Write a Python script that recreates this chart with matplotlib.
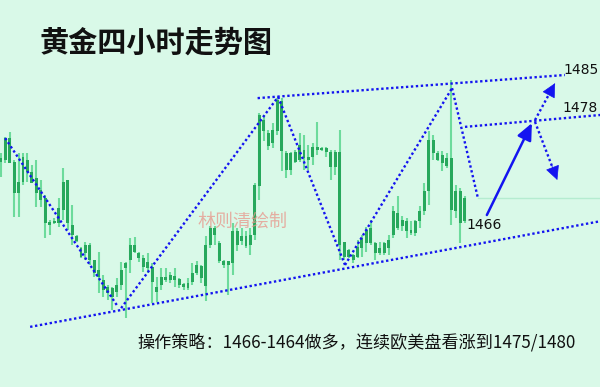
import matplotlib
matplotlib.use("Agg")
import matplotlib.pyplot as plt
import numpy as np

# ---- candle data (4h gold) ----
opens = [1471.1, 1471.4, 1474.9, 1471.1, 1467.9, 1467.9, 1471.4, 1469.5, 1468.5, 1466.6,
         1465.3, 1461.5, 1461.3, 1461.3, 1463.4, 1468.2, 1461.0, 1459.2, 1457.3, 1456.5,
         1457.8, 1455.4, 1453.8, 1452.2, 1451.1, 1450.9, 1450.3, 1451.4, 1454.1, 1455.4,
         1457.8, 1456.5, 1455.7, 1455.1, 1454.3, 1451.1, 1451.4, 1452.2, 1452.2, 1452.8,
         1452.4, 1451.6, 1450.9, 1451.9, 1453.3, 1454.4, 1451.2, 1457.8, 1460.5, 1458.1,
         1455.2, 1454.6, 1454.9, 1460.0, 1458.4, 1459.2, 1457.8, 1459.4, 1467.2, 1477.8,
         1475.7, 1474.1, 1476.0, 1480.8, 1472.5, 1469.8, 1472.7, 1471.4, 1473.0, 1471.9,
         1471.9, 1473.5, 1473.0, 1473.3, 1472.7, 1470.3, 1472.7, 1458.3, 1455.9, 1456.2,
         1455.9, 1457.3, 1458.1, 1460.5, 1458.1, 1456.5, 1456.5, 1457.3, 1459.4, 1462.9,
         1460.8, 1461.6, 1460.2, 1459.7, 1461.6, 1463.2, 1466.4, 1474.6, 1472.5, 1472.2,
         1471.7, 1471.7, 1463.2, 1466.4, 1461.6]
highs = [1472.5, 1475.1, 1475.9, 1471.4, 1472.5, 1472.5, 1472.5, 1470.6, 1471.4, 1468.2,
         1465.8, 1461.8, 1462.1, 1465.3, 1470.1, 1468.2, 1464.2, 1459.4, 1457.5, 1458.3,
         1458.1, 1455.4, 1456.7, 1453.0, 1451.4, 1451.1, 1452.5, 1455.1, 1455.1, 1458.9,
         1459.1, 1456.7, 1456.2, 1456.5, 1454.9, 1452.7, 1454.1, 1454.1, 1453.5, 1454.1,
         1452.5, 1451.7, 1452.5, 1454.9, 1455.2, 1454.6, 1459.2, 1460.8, 1460.8, 1458.4,
         1455.4, 1455.2, 1461.3, 1460.5, 1460.5, 1460.0, 1460.5, 1467.7, 1478.9, 1478.6,
         1476.2, 1477.3, 1481.3, 1481.3, 1472.8, 1472.7, 1473.0, 1475.7, 1475.4, 1473.8,
         1474.1, 1477.5, 1473.5, 1473.5, 1473.0, 1473.0, 1476.2, 1458.3, 1457.2, 1456.4,
         1458.6, 1459.4, 1460.7, 1461.8, 1458.3, 1458.3, 1458.3, 1459.4, 1464.0, 1465.6,
         1462.4, 1462.1, 1461.6, 1461.8, 1464.0, 1467.7, 1476.0, 1475.4, 1472.8, 1472.8,
         1472.5, 1484.2, 1467.4, 1466.9, 1465.6]
lows = [1468.7, 1470.9, 1470.9, 1462.3, 1462.3, 1467.4, 1467.9, 1467.7, 1463.9, 1463.9,
        1458.9, 1459.4, 1461.2, 1460.7, 1461.8, 1460.2, 1457.8, 1458.3, 1455.7, 1455.4,
        1454.6, 1452.7, 1450.1, 1449.5, 1449.0, 1447.4, 1449.5, 1450.6, 1446.1, 1453.3,
        1456.5, 1455.1, 1453.5, 1453.3, 1448.5, 1448.7, 1450.6, 1451.9, 1451.7, 1451.1,
        1450.9, 1450.6, 1450.6, 1451.4, 1453.0, 1451.7, 1448.8, 1457.3, 1457.8, 1454.9,
        1454.1, 1449.8, 1453.0, 1456.8, 1457.8, 1457.3, 1456.2, 1458.6, 1465.0, 1474.4,
        1473.0, 1473.3, 1475.4, 1469.6, 1468.5, 1469.0, 1470.9, 1471.1, 1469.8, 1469.8,
        1470.6, 1472.2, 1472.8, 1471.9, 1468.2, 1469.0, 1455.4, 1455.4, 1455.7, 1454.9,
        1455.7, 1455.9, 1456.7, 1457.8, 1455.4, 1456.2, 1456.2, 1456.2, 1458.9, 1460.2,
        1460.0, 1458.9, 1459.4, 1459.2, 1460.5, 1462.6, 1464.2, 1471.4, 1471.2, 1469.6,
        1470.1, 1461.0, 1462.1, 1458.1, 1461.3]
closes = [1471.7, 1474.9, 1470.9, 1466.1, 1466.1, 1471.9, 1469.5, 1467.7, 1466.1, 1465.0,
          1461.3, 1461.0, 1461.6, 1463.7, 1467.9, 1461.3, 1459.4, 1458.4, 1455.9, 1457.8,
          1455.4, 1453.3, 1452.7, 1450.6, 1450.1, 1449.5, 1451.4, 1453.8, 1454.9, 1457.8,
          1456.7, 1455.7, 1454.3, 1454.1, 1451.9, 1450.3, 1452.7, 1452.7, 1453.0, 1452.2,
          1451.4, 1451.1, 1451.7, 1453.3, 1454.6, 1452.5, 1457.8, 1460.5, 1459.4, 1455.2,
          1454.6, 1455.2, 1460.0, 1457.8, 1459.2, 1457.6, 1459.4, 1467.4, 1478.6, 1476.0,
          1473.6, 1476.2, 1481.0, 1472.8, 1469.8, 1472.5, 1471.1, 1473.8, 1471.7, 1471.4,
          1473.5, 1473.0, 1473.3, 1472.7, 1470.3, 1472.7, 1457.8, 1455.9, 1457.0, 1455.4,
          1457.5, 1458.9, 1460.2, 1458.1, 1456.5, 1457.3, 1458.1, 1458.6, 1463.2, 1460.5,
          1461.8, 1460.0, 1459.7, 1461.6, 1463.2, 1466.4, 1474.6, 1472.5, 1471.4, 1470.9,
          1470.4, 1463.4, 1466.4, 1461.3, 1465.3]

# ---- hand-drawn analysis lines: (candle index, price) ----
trend_down_1 = [(1.0, 1474.9), (26.3, 1447.9)]
trend_up_1 = [(27.0, 1447.7), (62.2, 1481.5)]
resistance_top = [(57.6, 1481.3), (126.5, 1485.0)]
trend_down_2 = [(62.2, 1481.5), (77.2, 1454.6)]
trend_up_2 = [(77.2, 1454.6), (101.2, 1482.9)]
trend_down_3 = [(101.2, 1482.9), (107.0, 1465.3)]
support = [(6.6, 1444.7), (134.4, 1461.6)]
level_1478 = [(104.1, 1476.7), (134.4, 1478.6)]
dotted_up = [(119.8, 1477.8), (124.3, 1483.7)]
dotted_down = [(119.8, 1477.5), (124.8, 1468.2)]
solid_up = [(109.0, 1462.6), (119.1, 1477.3)]
current_price = 1465.3

level_labels = ["1485", "1478", "1466"]
level_label_pos = [(126.1, 1485.8), (125.9, 1479.7), (104.5, 1461.0)]

title = "黄金四小时走势图"
watermark = "林则清绘制"
strategy = "操作策略：1466-1464做多，连续欧美盘看涨到1475/1480"

# ---- drawing ----
BG = "#d9f9e8"
W, H = 600, 387
fig = plt.figure(figsize=(W / 100, H / 100), dpi=100, facecolor=BG)
ax = fig.add_axes([0, 0, 1, 1])
ax.set_facecolor(BG)
ax.set_xlim(-0.157, 134.37)
ax.set_ylim(1435.08, 1497.0)
ax.axis("off")

idx = np.arange(len(opens))
o = np.array(opens); c = np.array(closes)
hi = np.array(highs); lo = np.array(lows)

ax.vlines(idx, lo, hi, color="#6ddb9c", lw=1.5, zorder=2)
btm = np.minimum(o, c)
hgt = np.maximum(np.abs(c - o), 0.25)
ax.bar(idx, hgt, bottom=btm, width=0.66, color="#27a85c", zorder=3, linewidth=0)

# current price line
ax.plot([107.0, 134.4], [current_price, current_price], color="#b5ecd0", lw=1.0, zorder=1)

BLUE = "#1414f0"
dot_kw = dict(color=BLUE, lw=1.7, linestyle=(0, (1, 1.1)), zorder=5,
              dash_capstyle="butt")
for seg in [trend_down_1, trend_up_1, resistance_top, trend_down_2, trend_up_2,
            trend_down_3, support, level_1478]:
    xs, ys = zip(*seg)
    ax.plot(xs, ys, **dot_kw)

for seg in [dotted_up, dotted_down]:
    (x0, y0), (x1, y1) = seg
    ax.plot([x0, x0 + (x1 - x0) * 0.82], [y0, y0 + (y1 - y0) * 0.82], **dot_kw)
    ax.annotate("", xy=(x1, y1), xytext=(x0 + (x1 - x0) * 0.75, y0 + (y1 - y0) * 0.75),
                arrowprops=dict(arrowstyle="-|>,head_length=0.9,head_width=0.45",
                                color=BLUE, lw=0.5, shrinkA=0, shrinkB=0), zorder=6)

(x0, y0), (x1, y1) = solid_up
ax.annotate("", xy=(x1, y1), xytext=(x0, y0),
            arrowprops=dict(arrowstyle="-|>,head_length=1.0,head_width=0.45",
                            color=BLUE, lw=1.8, shrinkA=0, shrinkB=0), zorder=6)

for lab, (lx, ly) in zip(level_labels, level_label_pos):
    ax.text(lx, ly, lab, fontsize=10, color="#111111", ha="left", va="center",
            family="DejaVu Sans", zorder=7)

ax.text(54.3, 1461.5, watermark, fontsize=13, color="#e8958a", alpha=0.75,
        ha="center", va="center", family=["Noto Sans CJK SC", "DejaVu Sans"], zorder=4)

fig.text(40 / W, 1 - 43 / H, title, fontsize=21, fontweight="bold", color="#111111",
         ha="left", va="center", family=["Noto Sans CJK SC", "DejaVu Sans"])
fig.text(137 / W, 1 - 342 / H, strategy, fontsize=12.3, color="#111111",
         ha="left", va="center", family=["Noto Sans CJK SC", "DejaVu Sans"])

fig.savefig("out.png", dpi=100, facecolor=BG)
